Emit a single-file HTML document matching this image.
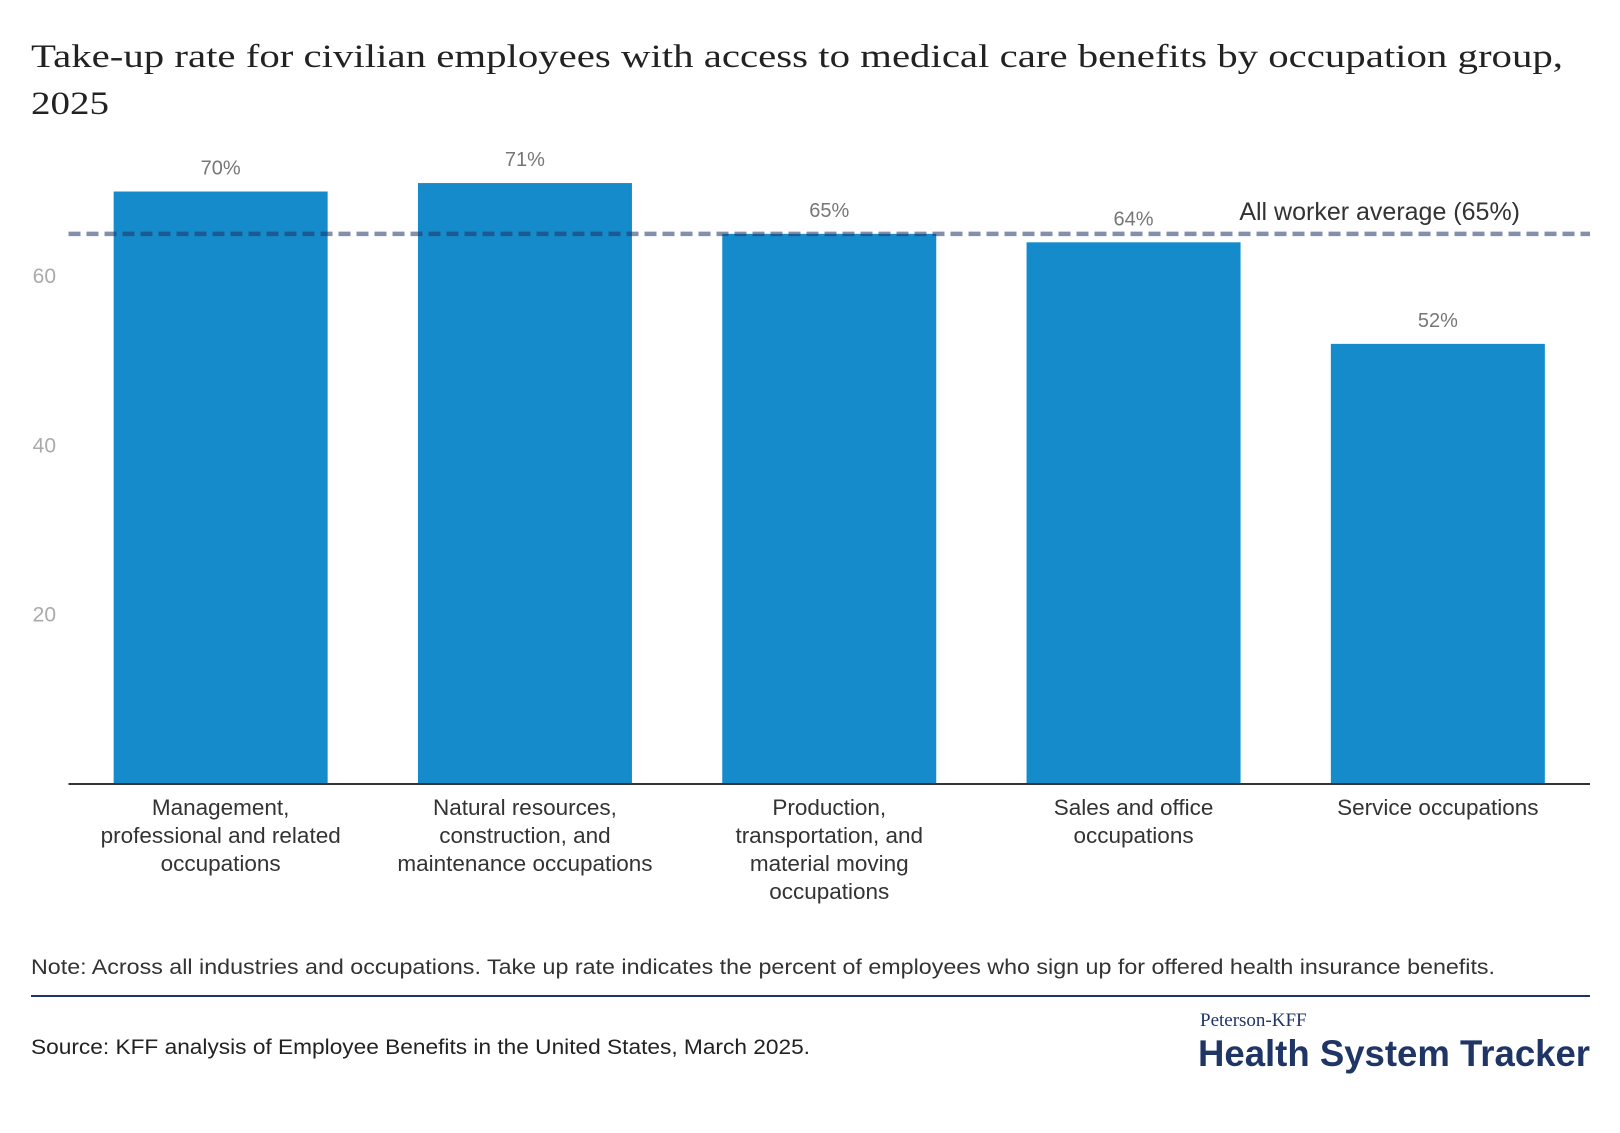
<!DOCTYPE html>
<html><head><meta charset="utf-8"><style>
body{margin:0;background:#fff;width:1620px;height:1128px;overflow:hidden;font-family:"Liberation Sans",sans-serif}
</style></head><body>
<svg width="1620" height="1128" viewBox="0 0 1620 1128">
<text x="31" y="67" font-family="Liberation Serif, serif" font-size="33" fill="#222" textLength="1532" lengthAdjust="spacingAndGlyphs">Take-up rate for civilian employees with access to medical care benefits by occupation group,</text>
<text x="31" y="114" font-family="Liberation Serif, serif" font-size="33" fill="#222" textLength="78" lengthAdjust="spacingAndGlyphs">2025</text>
<g id="plot"></g>
<text x="31" y="974" font-size="21" fill="#333" textLength="1464" lengthAdjust="spacingAndGlyphs">Note: Across all industries and occupations. Take up rate indicates the percent of employees who sign up for offered health insurance benefits.</text>
<line x1="31" y1="996" x2="1590" y2="996" stroke="#1f3566" stroke-width="2"/>
<text x="31" y="1054" font-size="21" fill="#222" textLength="779" lengthAdjust="spacingAndGlyphs">Source: KFF analysis of Employee Benefits in the United States, March 2025.</text>
<text x="1200" y="1026" font-family="Liberation Serif, serif" font-size="19" fill="#1f3566">Peterson-KFF</text>
<text x="1590" y="1066" text-anchor="end" font-size="37" font-weight="bold" fill="#1f3566" textLength="392" lengthAdjust="spacingAndGlyphs">Health System Tracker</text>
</svg>
<script>
const categories=[["Management,","professional and related","occupations"],["Natural resources,","construction, and","maintenance occupations"],["Production,","transportation, and","material moving","occupations"],["Sales and office","occupations"],["Service occupations"]];
const values=[70,71,65,64,52];
const valueLabels=["70%","71%","65%","64%","52%"];
const yTicks=[20,40,60];
const average=65;
const NS="http://www.w3.org/2000/svg";
const g=document.getElementById('plot');
const x0=68.5,x1=1590,base=784,unit=8.464;
const y=v=>base-v*unit;
const step=(x1-x0)/values.length, bw=214;
const bx=i=>x0+i*step+(step-bw)/2;
function el(t,a){const e=document.createElementNS(NS,t);for(const k in a)e.setAttribute(k,a[k]);g.appendChild(e);return e;}
yTicks.forEach(t=>{const e=el('text',{x:56,y:y(t)+7,'text-anchor':'end','font-size':21,fill:'#aaa'});e.textContent=t;

});
values.forEach((v,i)=>{
const r=el('rect',{x:bx(i),y:y(v),width:bw,height:v*unit,fill:'#168bcb'});


const l=el('text',{x:bx(i)+bw/2,y:y(v)-17,'text-anchor':'middle','font-size':20,fill:'#777'});l.textContent=valueLabels[i];


categories[i].forEach((s,j)=>{const c=el('text',{x:bx(i)+bw/2,y:815+j*28,'text-anchor':'middle','font-size':22.5,fill:'#333'});c.textContent=s;

});
});
const ax=el('line',{x1:x0,y1:base,x2:x1,y2:base,stroke:'#333','stroke-width':2});


const avg=el('line',{x1:x0,y1:y(average),x2:x1,y2:y(average),stroke:'#1f3566','stroke-opacity':0.55,'stroke-width':4.5,'stroke-dasharray':'12 6'});


const al=el('text',{x:1520,y:y(average)-14,'text-anchor':'end','font-size':25,fill:'#333'});al.textContent='All worker average ('+average+'%)';


</script>
</body></html>
